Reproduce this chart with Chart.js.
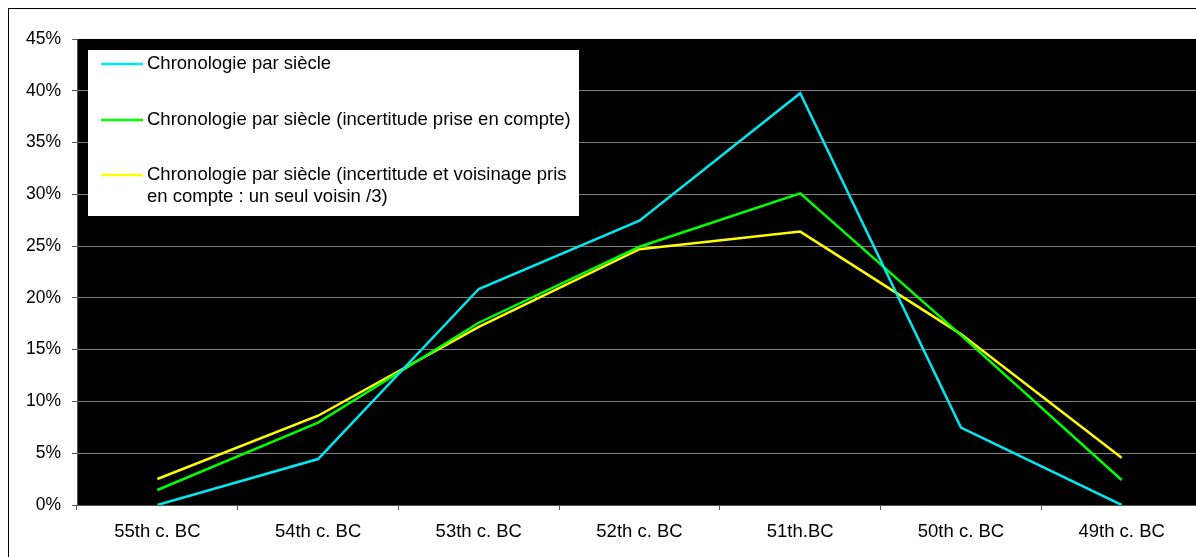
<!DOCTYPE html>
<html>
<head>
<meta charset="utf-8">
<script src="https://cdn.jsdelivr.net/npm/chart.js@4/dist/chart.umd.min.js"></script>
<style>
    html, body {
        margin: 0;
        padding: 0;
        background: #fff;
        overflow: hidden;
        width: 1196px;
        height: 557px;
    }
    .frame {
        position: absolute;
        left: 8px;
        top: 8px;
        width: 1400px;
        height: 700px;
        border-left: 1px solid #000;
        border-top: 1px solid #000;
    }
    #wrap {
        position: absolute;
        left: 0;
        top: 0;
        width: 1220px;
        height: 557px;
    }
</style>
</head>
<body>
<div class="frame"></div>
<div id="wrap"><canvas id="chronoChart" width="1220" height="557"></canvas></div>
<script>
const categories = ['55th c. BC', '54th c. BC', '53th c. BC', '52th c. BC', '51th.BC', '50th c. BC', '49th c. BC'];

const seriesLabels = [
    'Chronologie par siècle',
    'Chronologie par siècle (incertitude prise en compte)',
    'Chronologie par siècle (incertitude et voisinage pris en compte : un seul voisin /3)'
];

const parSiecle = [0, 4.44, 20.86, 27.45, 39.76, 7.47, 0];
const avecIncertitude = [1.45, 7.95, 17.6, 24.94, 30.1, 16.4, 2.41];
const avecVoisinage = [2.51, 8.62, 17.2, 24.7, 26.4, 16.5, 4.57];

const yTicks = [0, 5, 10, 15, 20, 25, 30, 35, 40, 45];

const colors = ['#00e8f0', '#00ff00', '#ffff00'];

const FONT = '"Liberation Sans", Arial, sans-serif';

// fond noir de la zone de tracé
const plotBackground = {
    id: 'plotBackground',
    beforeDraw(chart) {
        const a = chart.chartArea;
        const ctx = chart.ctx;
        ctx.save();
        ctx.fillStyle = '#000';
        ctx.fillRect(a.left, a.top, a.right - a.left, a.bottom - a.top);
        ctx.restore();
    }
};

function wrapText(ctx, text, maxWidth) {
    const words = text.split(' ');
    const lines = [];
    let line = '';
    words.forEach(w => {
        const test = line ? line + ' ' + w : w;
        if (ctx.measureText(test).width > maxWidth && line) {
            lines.push(line);
            line = w;
        } else {
            line = test;
        }
    });
    if (line) lines.push(line);
    return lines;
}

// légende dans la zone de tracé
const insideLegend = {
    id: 'insideLegend',
    afterDraw(chart) {
        const a = chart.chartArea;
        const ctx = chart.ctx;
        const boxX = a.left + 11;
        const boxY = a.top + 11;
        const boxW = 491;
        const boxH = 166;
        const rows = [14, 70, 125];

        ctx.save();
        ctx.fillStyle = '#fff';
        ctx.fillRect(boxX, boxY, boxW, boxH);

        ctx.font = '18.5px ' + FONT;
        ctx.textBaseline = 'middle';
        ctx.textAlign = 'left';

        chart.data.datasets.forEach((ds, i) => {
            const y = boxY + rows[i];
            ctx.strokeStyle = ds.borderColor;
            ctx.lineWidth = 2.5;
            ctx.beginPath();
            ctx.moveTo(boxX + 13, y);
            ctx.lineTo(boxX + 55, y);
            ctx.stroke();

            ctx.fillStyle = '#000';
            const lines = wrapText(ctx, ds.label, 425);
            lines.forEach((l, j) => {
                ctx.fillText(l, boxX + 59, y + j * 22);
            });
        });
        ctx.restore();
    }
};

const ctx = document.getElementById('chronoChart').getContext('2d');
new Chart(ctx, {
    type: 'line',
    data: {
        labels: categories,
        datasets: [
            { label: seriesLabels[0], data: parSiecle, borderColor: colors[0] },
            { label: seriesLabels[1], data: avecIncertitude, borderColor: colors[1] },
            { label: seriesLabels[2], data: avecVoisinage, borderColor: colors[2] }
        ].map(ds => Object.assign(ds, {
            borderWidth: 2.5,
            pointRadius: 0,
            tension: 0,
            fill: false
        }))
    },
    options: {
        responsive: false,
        animation: false,
        layout: {
            padding: { top: 39, right: 18, left: 0, bottom: 0 }
        },
        plugins: {
            legend: { display: false },
            tooltip: { enabled: false }
        },
        scales: {
            x: {
                type: 'category',
                offset: true,
                afterFit(scale) { scale.height = 52; },
                grid: {
                    offset: true,
                    drawOnChartArea: false,
                    drawTicks: true,
                    tickLength: 5,
                    tickColor: '#555'
                },
                border: { display: true, color: '#555', width: 1 },
                ticks: {
                    color: '#000',
                    padding: 11,
                    maxRotation: 0,
                    autoSkip: false,
                    font: { family: FONT, size: 18.5 }
                }
            },
            y: {
                min: 0,
                max: 45,
                afterFit(scale) { scale.width = 77; },
                afterBuildTicks(scale) {
                    scale.ticks = yTicks.map(v => ({ value: v }));
                },
                grid: {
                    color: c => (c.tick && c.tick.value === 45) ? 'rgba(0,0,0,0)' : '#808080',
                    lineWidth: 1,
                    tickLength: 5,
                    tickColor: '#555'
                },
                border: { display: true, color: '#555', width: 1 },
                ticks: {
                    color: '#000',
                    padding: 11,
                    font: { family: FONT, size: 17.5 },
                    callback: v => v + '%'
                }
            }
        }
    },
    plugins: [plotBackground, insideLegend]
});
</script>
</body>
</html>
